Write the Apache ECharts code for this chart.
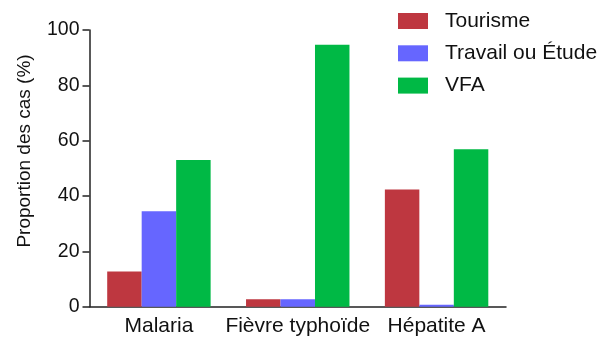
<!DOCTYPE html>
<html><head><meta charset="utf-8">
<script src="https://cdn.jsdelivr.net/npm/echarts@6/dist/echarts.min.js"></script>
<style>html,body{margin:0;padding:0;background:#fff}#c{width:608px;height:337px}</style>
</head><body><div id="c"></div>
<script>
const categories = ["Malaria", "Fièvre typhoïde", "Hépatite A"];
const seriesNames = ["Tourisme", "Travail ou Étude", "VFA"];
const tourisme = [12.7, 2.7, 42.4];
const travail = [34.5, 2.7, 0.7];
const vfa = [53.0, 94.7, 56.9];
const yTicks = [0, 20, 40, 60, 80, 100];
const yTitle = "Proportion des cas (%)";
const colors = ["#BE3740", "#6666FF", "#00B945"];

const font = "Liberation Sans, Arial, sans-serif";
const chart = echarts.init(document.getElementById('c'), null, {renderer: 'canvas'});
const values = [tourisme, travail, vfa];
chart.setOption({
  animation: false,
  backgroundColor: '#fff',
  grid: {left: 89.5, right: 102, top: 30, bottom: 30.3, containLabel: false},
  legend: {
    orient: 'vertical', left: 398, top: 10.5, padding: 0,
    itemWidth: 30, itemHeight: 16, itemGap: 11.3,
    icon: 'rect',
    textStyle: {fontFamily: font, fontSize: 21, color: '#111', padding: [0, 0, 0, 12]},
    data: seriesNames
  },
  xAxis: {
    type: 'category', data: categories,
    axisLine: {lineStyle: {color: '#222', width: 1.5}},
    axisTick: {length: 7, alignWithLabel: true, lineStyle: {color: '#222', width: 1.5}},
    axisLabel: {fontFamily: font, fontSize: 21, color: '#111', margin: 9, interval: 0}
  },
  yAxis: {
    type: 'value', min: yTicks[0], max: yTicks[yTicks.length - 1], interval: 20,
    splitLine: {show: false},
    axisLine: {show: true, lineStyle: {color: '#222', width: 1.5}},
    axisTick: {show: true, length: 7, lineStyle: {color: '#222', width: 1.5}},
    axisLabel: {fontFamily: font, fontSize: 19.5, color: '#111', margin: 10}
  },
  graphic: [{
    type: 'text', x: 25, y: 151, rotation: Math.PI / 2,
    style: {text: yTitle, fontFamily: font, fontSize: 19, fill: '#111', align: 'center', verticalAlign: 'middle'}
  }],
  series: seriesNames.map((n, i) => ({
    name: n, type: 'bar', data: values[i],
    barGap: '0%', barCategoryGap: '25.5%',
    itemStyle: {color: colors[i]}
  }))
});
</script></body></html>
